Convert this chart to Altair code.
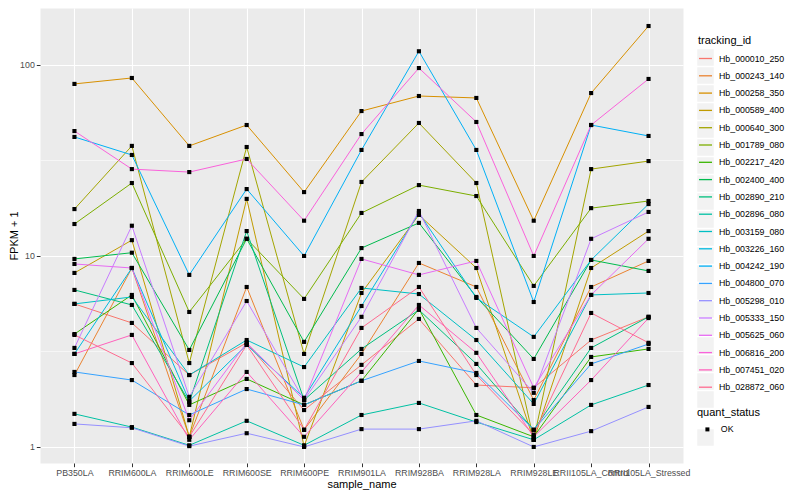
import altair as alt
import pandas as pd

samples = ["PB350LA", "RRIM600LA", "RRIM600LE", "RRIM600SE", "RRIM600PE", "RRIM901LA",
           "RRIM928BA", "RRIM928LA", "RRIM928LE", "RRII105LA_Control", "RRII105LA_Stressed"]

tracking_ids = ["Hb_000010_250", "Hb_000243_140", "Hb_000258_350", "Hb_000589_400", "Hb_000640_300",
                "Hb_001789_080", "Hb_002217_420", "Hb_002400_400", "Hb_002890_210", "Hb_002896_080",
                "Hb_003159_080", "Hb_003226_160", "Hb_004242_190", "Hb_004800_070", "Hb_005298_010",
                "Hb_005333_150", "Hb_005625_060", "Hb_006816_200", "Hb_007451_020", "Hb_028872_060"]

palette = ["#F8766D", "#EA8331", "#D89000", "#C09B00", "#A3A500", "#7CAE00", "#39B600", "#00BB4E",
           "#00BF7D", "#00C1A3", "#00BFC4", "#00BAE0", "#00B0F6", "#35A2FF", "#9590FF", "#C77CFF",
           "#E76BF3", "#FA62DB", "#FF62BC", "#FF6C91"]

# FPKM + 1 per sample (order of `samples`)
hb_000010_250 = [5.61, 4.46, 2.38, 3.51, 1.56, 2.69, 4.68, 2.11, 2.04, 3.63, 4.80]
hb_000243_140 = [2.38, 8.65, 1.13, 6.88, 1.23, 3.07, 9.19, 6.88, 1.76, 6.88, 9.42]
hb_000258_350 = [79.6, 85.5, 37.7, 48.5, 21.6, 57.4, 68.8, 67.2, 15.3, 71.3, 160.0]
hb_000589_400 = [8.15, 12.1, 1.13, 19.9, 1.01, 6.40, 16.4, 8.65, 1.09, 8.65, 13.5]
hb_000640_300 = [17.6, 37.7, 2.75, 37.2, 3.07, 24.4, 49.7, 24.1, 1.09, 28.5, 31.4]
hb_001789_080 = [14.7, 24.1, 5.09, 12.3, 5.96, 16.8, 23.5, 20.6, 6.97, 17.8, 19.4]
hb_002217_420 = [3.90, 6.25, 1.66, 2.27, 1.66, 2.22, 5.28, 1.47, 1.13, 2.96, 3.26]
hb_002400_400 = [9.65, 10.4, 3.22, 12.3, 3.55, 11.0, 14.9, 6.10, 2.89, 9.53, 8.35]
hb_002890_210 = [6.64, 5.54, 1.72, 13.5, 1.76, 3.26, 5.22, 2.72, 1.23, 3.30, 4.80]
hb_002896_080 = [1.49, 1.27, 1.02, 1.37, 1.02, 1.47, 1.70, 1.35, 1.09, 1.66, 2.11]
hb_003159_080 = [5.61, 6.10, 2.38, 3.63, 2.62, 6.80, 6.32, 3.63, 1.68, 6.25, 6.40]
hb_003226_160 = [3.07, 8.65, 1.74, 3.42, 1.81, 5.47, 16.8, 6.03, 3.77, 9.53, 18.7]
hb_004242_190 = [42.0, 33.8, 7.96, 22.4, 10.0, 35.9, 118.0, 35.9, 5.74, 48.5, 42.5]
hb_004800_070 = [2.47, 2.24, 1.47, 2.01, 1.66, 2.22, 2.82, 2.44, 1.23, 2.72, 3.46]
hb_005298_010 = [1.32, 1.26, 1.01, 1.18, 1.00, 1.24, 1.24, 1.37, 1.00, 1.21, 1.62]
hb_005333_150 = [3.30, 14.4, 1.83, 5.81, 1.76, 4.80, 17.2, 4.20, 1.92, 12.3, 17.0]
hb_005625_060 = [9.08, 8.65, 1.38, 3.51, 1.76, 9.65, 7.96, 9.42, 2.04, 6.25, 12.3]
hb_006816_200 = [45.1, 28.5, 27.5, 32.2, 15.3, 43.5, 96.4, 50.3, 10.0, 48.5, 84.5]
hb_007451_020 = [3.07, 3.86, 1.09, 2.47, 1.13, 2.47, 5.54, 3.11, 1.13, 2.24, 4.73]
hb_028872_060 = [3.86, 2.75, 1.13, 3.42, 1.23, 4.20, 6.88, 2.38, 1.16, 5.03, 3.51]

series = [hb_000010_250, hb_000243_140, hb_000258_350, hb_000589_400, hb_000640_300,
          hb_001789_080, hb_002217_420, hb_002400_400, hb_002890_210, hb_002896_080,
          hb_003159_080, hb_003226_160, hb_004242_190, hb_004800_070, hb_005298_010,
          hb_005333_150, hb_005625_060, hb_006816_200, hb_007451_020, hb_028872_060]

y_ticks = [1, 10 ** 0.5, 10, 10 ** 1.5, 100]

box_ids = [t + "_key" for t in tracking_ids]

rows = []
for tid, bid, vals in zip(tracking_ids, box_ids, series):
    for i, (s, v) in enumerate(zip(samples, vals)):
        rows.append({"tracking_id": tid, "key_box": bid, "sample_name": s, "idx": i,
                     "fpkm1": v, "quant_status": "OK", "ok_box": "OK_key"})
df = pd.DataFrame(rows)

FONT = "Liberation Sans"
KEY_BG = "#F2F2F2"
minor_test = "(datum.value > 2 && datum.value < 5) || (datum.value > 20 && datum.value < 50)"

x_enc = alt.X("sample_name:N", sort=samples,
              scale=alt.Scale(domain=samples, type="point", padding=0.6),
              axis=alt.Axis(title="sample_name", labelAngle=0, labelOverlap=False,
                            labelPadding=1.5, titlePadding=1))
y_enc = alt.Y("fpkm1:Q",
              scale=alt.Scale(type="log", domain=[0.824, 198.8], nice=False, zero=False),
              axis=alt.Axis(title="FPKM + 1", values=y_ticks,
                            labelExpr="(datum.value > 0.9 && datum.value < 1.1) ? '1' : (datum.value > 9 && datum.value < 11) ? '10' : (datum.value > 90 && datum.value < 110) ? '100' : ''",
                            gridWidth={"condition": {"test": minor_test, "value": 0.55}, "value": 1.1},
                            tickColor={"condition": {"test": minor_test, "value": "rgba(0,0,0,0)"}, "value": "#333333"},
                            titlePadding=0))

base = alt.Chart(df)

# invisible layers that only provide the grey legend key backgrounds
key_boxes = base.mark_square(opacity=0, size=1).encode(
    x=x_enc,
    y=y_enc,
    color=alt.Color("key_box:N", scale=alt.Scale(domain=box_ids, range=[KEY_BG] * len(box_ids)),
                    legend=alt.Legend(title="", orient="none", legendX=657, legendY=41,
                                      symbolType="square", symbolSize=272, symbolOpacity=1,
                                      symbolStrokeWidth=0, symbolFillColor=KEY_BG,
                                      rowPadding=1.0, labelExpr="''", labelOffset=0)),
)

ok_box = base.mark_square(opacity=0, size=1).encode(
    x=x_enc,
    y=y_enc,
    fill=alt.Fill("ok_box:N", scale=alt.Scale(domain=["OK_key"], range=[KEY_BG]),
                  legend=alt.Legend(title="", orient="none", legendX=657, legendY=421,
                                    symbolType="square", symbolSize=272, symbolOpacity=1,
                                    symbolStrokeWidth=0, symbolFillColor=KEY_BG,
                                    labelExpr="''", labelOffset=0)),
)

lines = base.mark_line(strokeWidth=1).encode(
    x=x_enc,
    y=y_enc,
    stroke=alt.Stroke("tracking_id:N", scale=alt.Scale(domain=tracking_ids, range=palette),
                      legend=alt.Legend(title="tracking_id", orient="none", legendX=658, legendY=27,
                                        symbolType="stroke", symbolSize=169, symbolStrokeWidth=1.3,
                                        rowPadding=4.3, titlePadding=5, labelOffset=6, labelLimit=200)),
    order=alt.Order("idx:Q"),
)

points = base.mark_point(shape="square", filled=True, size=17, color="black", opacity=1).encode(
    x=x_enc,
    y=y_enc,
    shape=alt.Shape("quant_status:N", scale=alt.Scale(domain=["OK"], range=["square"]),
                    legend=alt.Legend(title="quant_status", orient="none", legendX=657, legendY=399,
                                      symbolSize=16, symbolFillColor="black", symbolStrokeColor="black",
                                      titlePadding=7, symbolOffset=6, labelOffset=9)),
)

chart = alt.layer(key_boxes, ok_box, lines, points).properties(
    width=643, height=455,
    autosize=alt.AutoSizeParams(type="none"),
    padding={"left": 32, "top": 0, "right": 109, "bottom": 30},
).configure_view(
    fill="#EBEBEB", stroke="transparent"
).configure_axis(
    domain=False, grid=True, gridColor="white", tickColor="#333333", tickSize=3.7, tickWidth=1,
    labelFont=FONT, labelFontSize=8.8, labelColor="#4D4D4D",
    titleFont=FONT, titleFontSize=11, titleFontWeight="normal", titleColor="black",
).configure_axisX(
    gridWidth=1.1
).configure_legend(
    titleFont=FONT, titleFontSize=11, titleFontWeight="normal", titleColor="black",
    labelFont=FONT, labelFontSize=8.8, labelColor="black",
)

chart.save("out.html", embed_options={"renderer": "svg", "actions": False})
